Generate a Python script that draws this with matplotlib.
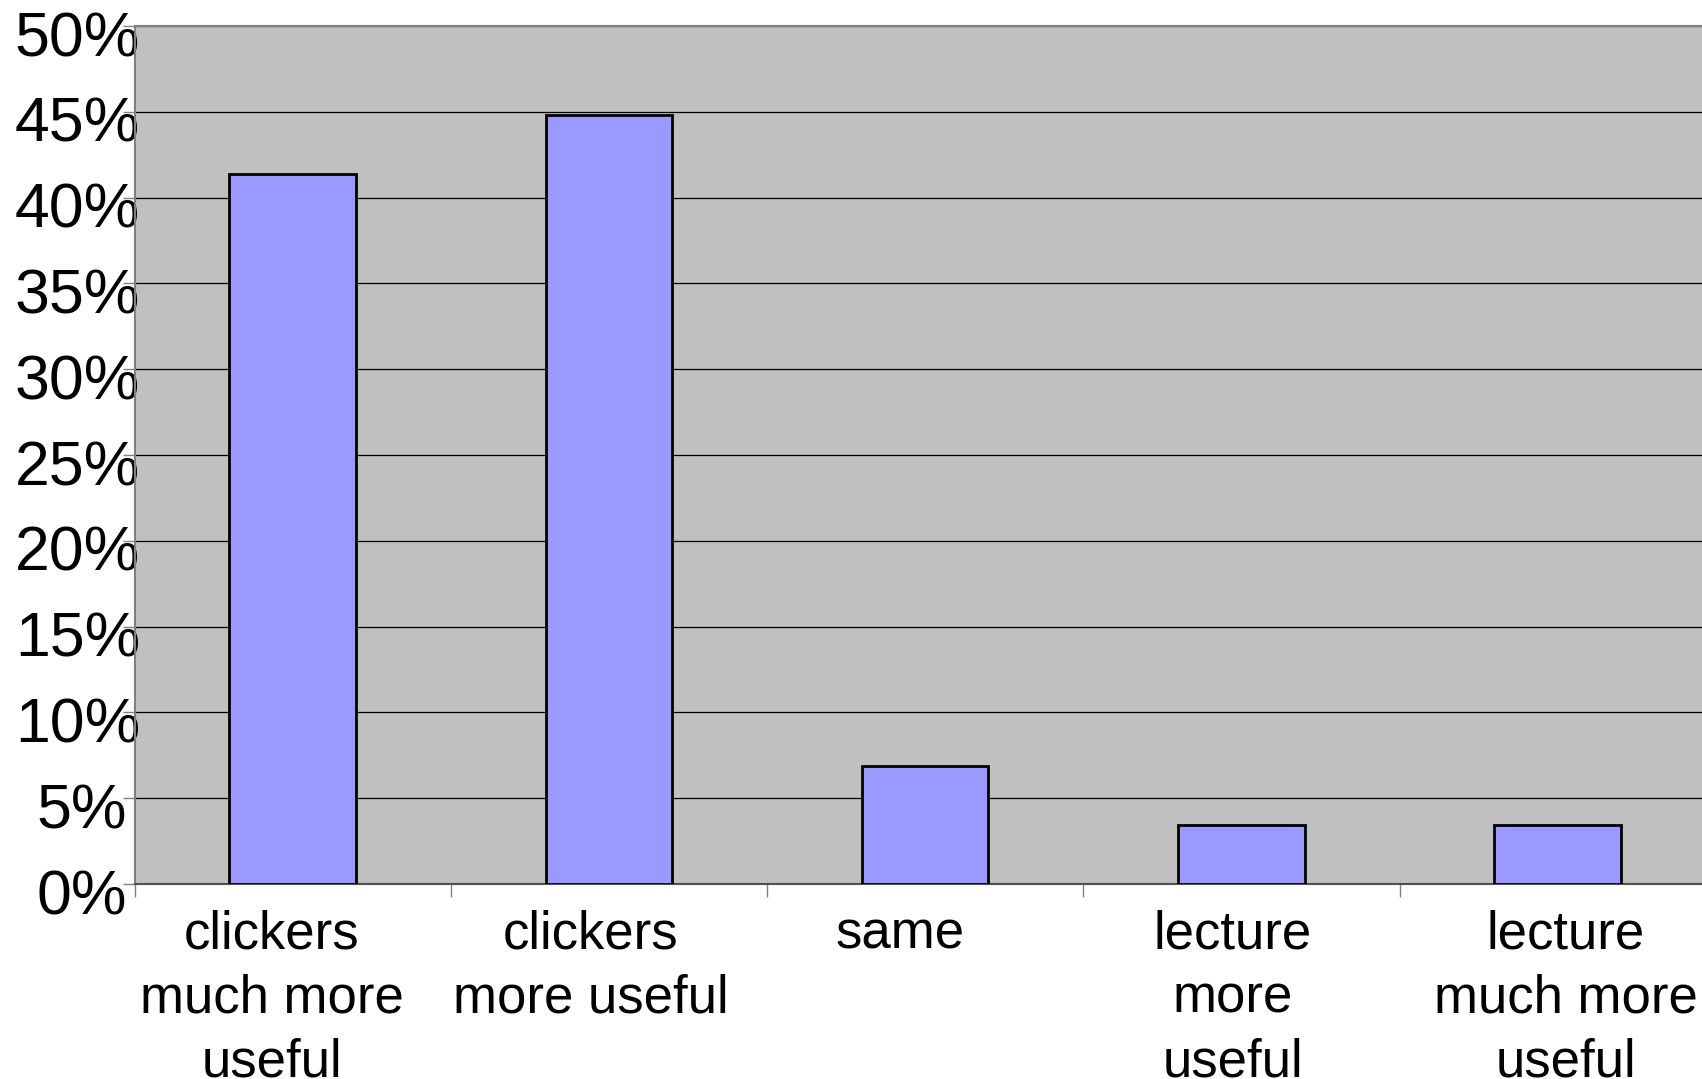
import numpy as np
import matplotlib.pyplot as plt
from matplotlib.transforms import ScaledTranslation

plt.rcParams['font.family'] = ['Liberation Sans', 'DejaVu Sans']

# survey answers (share of 29 students)
categories = ['clickers\nmuch more\nuseful', 'clickers\nmore useful', 'same',
              'lecture\nmore\nuseful', 'lecture\nmuch more\nuseful']
shares = [41.38, 44.83, 6.90, 3.45, 3.45]
yticks = [0, 5, 10, 15, 20, 25, 30, 35, 40, 45, 50]
ytick_labels = ['0%', '5%', '10%', '15%', '20%', '25%', '30%', '35%', '40%', '45%', '50%']

fig = plt.figure(figsize=(17.02, 10.79), dpi=100)
# the plot area runs a little past the right edge of the figure
ax = fig.add_axes([0.0791, 0.1807, 0.929, 0.7952])
ax.set_facecolor('#c0c0c0')

x = np.arange(len(categories))
ax.bar(x, shares, width=0.4, color='#9999ff', edgecolor='black', linewidth=2.0, zorder=3)

ax.set_xlim(-0.5, len(categories) - 0.5)
ax.set_ylim(0, 50)

ax.set_yticks(yticks)
ax.set_yticklabels(ytick_labels, fontsize=45)
ax.yaxis.grid(True, color='black', linewidth=0.9, zorder=1)
ax.tick_params(axis='y', direction='out', length=9, width=1, color='#808080', pad=-13)
for lab in ax.get_yticklabels():
    # short labels end a bit further left
    dx = -0.13 if len(lab.get_text()) < 3 else 0
    lab.set_transform(lab.get_transform() + ScaledTranslation(dx, -0.07, fig.dpi_scale_trans))

ax.set_xticks(x)
ax.set_xticklabels(categories, fontsize=38, linespacing=1.36)
ax.set_xticks(np.arange(len(categories) + 1) - 0.5, minor=True)
ax.tick_params(axis='x', which='major', length=0, pad=18)
ax.tick_params(axis='x', which='minor', direction='out', length=9, width=1, color='#808080')
# wrapped labels sit slightly off the bar centres
shifts = [-0.21, -0.18, -0.25, -0.09, 0.08]
for lab, dx in zip(ax.get_xticklabels(), shifts):
    lab.set_transform(lab.get_transform() + ScaledTranslation(dx, 0, fig.dpi_scale_trans))

for side in ['left', 'top', 'bottom', 'right']:
    ax.spines[side].set_color('#808080')
    ax.spines[side].set_linewidth(1.5)
ax.spines['bottom'].set_color('#505050')
ax.set_axisbelow(True)

fig.savefig('out.png', dpi=100)
